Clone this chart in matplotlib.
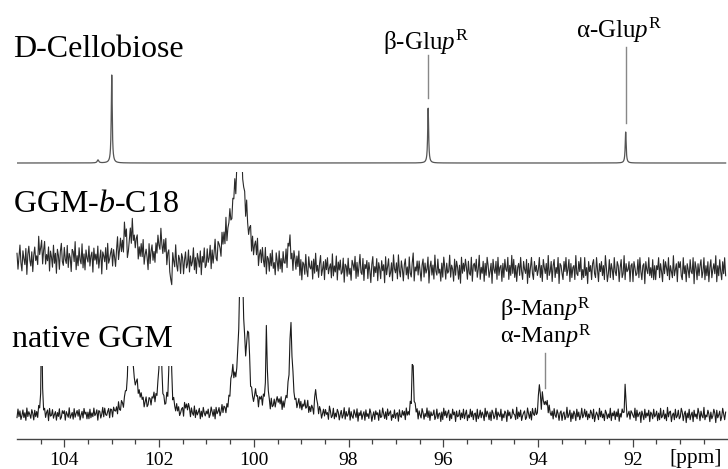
import numpy as np
import matplotlib
matplotlib.use("Agg")
import matplotlib.pyplot as plt
from matplotlib.patches import Rectangle

plt.rcParams['font.family'] = ['Liberation Serif', 'DejaVu Serif']
plt.rcParams['mathtext.fontset'] = 'custom'
plt.rcParams['mathtext.rm'] = 'Liberation Serif'
plt.rcParams['mathtext.it'] = 'Liberation Serif:italic'

# ---------------- data ----------------
ppm_start, ppm_end = 105.0, 90.04

# D-Cellobiose (sharp peaks, offset baseline)
cello_base = 276
cello_pos = [103.29, 103.00, 96.32, 92.15]
cello_height = [3, 88, 55, 31]
cello_width = [0.02, 0.012, 0.012, 0.012]

# GGM-b-C18
c18_base = 169
c18_pos = [104.2, 104.5, 102.72, 102.6, 102.655, 101.95, 101.75, 100.6, 100.306, 100.29, 99.25]
c18_height = [12, 12, 12, 30, -35, 20, -28, 10, 95, 30, 20]
c18_width = [2.0, 0.04, 0.06, 0.15, 0.015, 0.12, 0.015, 0.2, 0.16, 0.04, 0.06]
c18_noise_amp = 2.0
c18_clip_top = 267

# native GGM
nat_base = 24
nat_pos = [104.48, 102.615, 102.52, 102.1, 101.975, 101.765, 101.42, 100.45, 100.265, 100.12,
           99.95, 99.85, 99.733, 99.5, 99.22, 98.95, 98.69, 96.646, 93.97, 93.9, 93.82, 92.158]
nat_height = [100, 145, 28, 12, 125, 110, 8, 35, 180, 68,
              12, 10, 80, 10, 87, 8, 24, 65, 30, 18, 15, 25]
nat_width = [0.012, 0.025, 0.15, 0.1, 0.02, 0.023, 0.05, 0.04, 0.05, 0.035,
             0.03, 0.03, 0.018, 0.15, 0.035, 0.15, 0.02, 0.018, 0.02, 0.02, 0.025, 0.015]
nat_noise_amp = 0.95
nat_clip_top = 142

# baseline noise samples (estimated, one per pixel column)
noise = [
 3,-5,1,7,-2,-6,4,0,-3,5,-8,2,6,-1,-4,3,-7,1,5,-2,0,-5,8,-3,
 -1,4,-6,2,7,-4,1,-2,5,-7,3,0,-5,6,-3,2,-8,4,1,-6,3,7,-2,-4,
 5,-1,-3,6,-5,2,0,-7,4,3,-2,8,-6,1,-4,5,-1,-3,7,-5,2,-6,4,0,
 -2,6,-4,1,3,-7,5,-1,2,-3,6,-5,0,4,-8,3,1,-2,5,-6,7,-3,-1,2,
 4,-5,3,-1,-6,2,8,-4,0,5,-3,1,-7,6,-2,3,-5,4,-1,2,-6,7,-3,1,
 -4,2,5,-6,1,-3,4,-2,7,-5,0,3,-1,-7,6,-4,2,5,-3,1,-5,4,-2,6,
 0,-3,7,-1,-5,3,-2,6,-6,1,4,-4,2,-7,5,0,-3,8,-2,-5,3,1,-6,4,
 2,-6,1,5,-3,-1,6,-5,3,-2,0,7,-4,2,-6,4,1,-3,5,-7,2,-1,6,-4,
 -3,5,-2,0,6,-6,3,-4,1,7,-3,-5,4,2,-1,-6,5,-2,3,-4,8,-5,0,1,
 6,-2,-4,3,-1,5,-7,2,4,-3,1,-6,6,-2,0,3,-5,7,-1,-4,2,5,-6,3,
 -5,1,4,-2,7,-6,0,3,-3,5,-1,-4,6,-7,2,1,-5,4,-2,6,-3,0,-6,5,
 1,-4,6,-3,2,-5,5,-1,-2,4,-7,3,0,6,-4,1,-6,5,2,-3,4,-1,7,-5,
 3,-7,2,1,-4,6,-2,-5,5,0,-1,3,-6,4,-3,7,-2,1,-5,2,6,-4,-1,3,
 -6,4,-1,5,-3,0,2,-5,7,-4,1,-2,6,-6,3,-1,4,-3,-2,5,-7,2,1,-4,
 5,-3,0,-6,4,2,-1,6,-5,3,-4,1,7,-2,-3,5,-6,2,0,4,-5,3,-1,-7,
 2,6,-4,1,-2,5,-6,3,0,-5,4,-1,2,-7,6,-3,1,5,-4,-2,3,-6,7,0,
 -2,3,-5,7,-1,-4,4,0,-6,2,5,-3,1,-5,6,-2,-4,3,8,-6,1,-1,4,-3,
 4,-1,-6,2,5,-4,3,-2,0,6,-7,1,4,-3,2,-5,7,-1,-3,5,-2,0,-6,3,
 -4,6,1,-5,3,-2,-1,7,-4,2,0,-6,5,-3,4,1,-5,2,-7,6,-2,3,-1,5,
 1,-5,4,-2,-3,6,-6,2,3,-1,5,-4,0,7,-5,1,-2,4,-6,3,-3,6,2,-4,
 -1,3,-7,5,0,-2,4,-5,6,-3,1,2,-6,3,-4,5,0,-1,6,-5,2,-3,7,-2,
 5,-4,2,-6,1,3,-3,6,-1,-5,4,0,-2,5,-7,3,-4,1,6,-2,-5,4,-1,2,
 -3,0,6,-4,2,-6,5,1,-2,3,-5,7,-3,-1,4,-6,2,5,-4,1,-2,6,-7,3,
 2,-2,-5,4,-1,6,-3,0,5,-6,3,-4,1,2,-5,7,-2,-3,4,-1,6,-5,0,-4,
 6,-3,1,-7,4,-1,2,-5,3,5,-2,-4,6,0,-6,3,-1,4,-3,2,-5,7,1,-6,
 -2,5,-4,3,0,-5,6,-1,-3,4,2,-6,1,5,-4,-2,7,-5,3,-1,0,4,-6,2,
 3,-6,4,1,-3,-2,5,-4,6,-1,-5,2,3,-7,4,0,-2,6,-3,1,-4,5,-5,2,
 -5,2,0,6,-4,3,-1,-6,5,-2,4,1,-3,6,-5,2,-1,-4,7,-3,0,3,-6,4,
 1,4,-3,-5,6,-2,2,-6,3,0,-4,5,-1,-2,6,-7,4,1,-5,3,-3,2,5,-4,
 -1,6,-5,2,-3,4,-6,1,5,-4,0,3,-2,7,-6,2,-3,5,-1,-5,4,-2,6,-3,
]

major_ticks = [104, 102, 100, 98, 96, 94, 92]
minor_ticks = [104.5, 103.5, 103, 102.5, 101.5, 101, 100.5, 99.5, 99, 98.5, 97.5, 97,
               96.5, 95.5, 95, 94.5, 93.5, 93, 92.5, 91.5, 91, 90.5]

# ---------------- helpers ----------------
def lorentz_sum(x, pos, hts, wid):
    y = np.zeros_like(x)
    for p, h, w in zip(pos, hts, wid):
        y += h / (1.0 + ((x - p) / w) ** 2)
    return y

noise_arr = np.array(noise, dtype=float)
grid = np.linspace(ppm_start, ppm_end, len(noise_arr))
fine = np.linspace(ppm_start, ppm_end, 6000)

fig = plt.figure(figsize=(7.28, 4.69), dpi=100)
ax = fig.add_axes([17 / 728, 30 / 469, 711 / 728, 439 / 469])
ax.set_xlim(105.0, 89.99)
ax.set_ylim(0, 439)

# D-Cellobiose
y_cel = cello_base + lorentz_sum(fine, cello_pos, cello_height, cello_width)
ax.plot(fine, y_cel, color='#555555', lw=0.9)

# GGM-b-C18
y_c18 = c18_base + lorentz_sum(grid, c18_pos, c18_height, c18_width) + c18_noise_amp * noise_arr
l1, = ax.plot(grid, y_c18, color='#2a2a2a', lw=0.8)
clip1 = Rectangle((89, 0), 17, c18_clip_top, transform=ax.transData)
l1.set_clip_path(clip1)

# native GGM
y_nat = nat_base + lorentz_sum(grid, nat_pos, nat_height, nat_width) + nat_noise_amp * noise_arr[::-1]
l2, = ax.plot(grid, y_nat, color='#1a1a1a', lw=0.8)
clip2 = Rectangle((89, 0), 17, nat_clip_top, transform=ax.transData)
l2.set_clip_path(clip2)

# white backing behind the "native GGM" label
ax.add_patch(Rectangle((101.64, 73), 3.9, 75, facecolor='white', edgecolor='none', zorder=3))

# marker lines
ax.plot([96.329, 96.329], [341, 384], color='#888888', lw=1.0)
ax.plot([92.15, 92.15], [316, 392], color='#888888', lw=1.0)
ax.plot([93.86, 93.86], [51, 86], color='#888888', lw=1.0, zorder=4)

# trace labels
ax.text(105.084, 382, 'D-Cellobiose', fontsize=23, ha='left', va='baseline', zorder=5)
ax.text(105.084, 227, r'GGM-$\mathit{b}$-C18', fontsize=23, ha='left', va='baseline', zorder=5)
ax.text(105.11, 92, 'native GGM', fontsize=23, ha='left', va='baseline', zorder=5)

# peak labels
ax.text(96.37, 389, r'β-Glu$\mathit{p}^{\mathrm{R}}$', fontsize=18, ha='center', va='baseline')
ax.text(92.30, 401, r'α-Glu$\mathit{p}^{\mathrm{R}}$', fontsize=18, ha='center', va='baseline')
ax.text(93.84, 123, r'β-Man$\mathit{p}^{\mathrm{R}}$', fontsize=17.5, ha='center', va='baseline', zorder=5)
ax.text(93.83, 96, r'α-Man$\mathit{p}^{\mathrm{R}}$', fontsize=17.5, ha='center', va='baseline', zorder=5)

# axis
for s in ['top', 'left', 'right']:
    ax.spines[s].set_visible(False)
ax.spines['bottom'].set_color('#444444')
ax.spines['bottom'].set_linewidth(1.0)
ax.set_yticks([])
ax.set_xticks(major_ticks)
ax.set_xticklabels([str(t) for t in major_ticks])
ax.set_xticks(minor_ticks, minor=True)
ax.tick_params(axis='x', which='major', length=5.8, width=0.9, direction='out',
               color='#444444', labelsize=14, pad=3.5)
ax.tick_params(axis='x', which='minor', length=3.6, width=0.9, direction='out', color='#444444')
ax.text(90.68, -24, '[ppm]', fontsize=15.5, ha='center', va='baseline', clip_on=False)

fig.savefig('out.png', dpi=100)
